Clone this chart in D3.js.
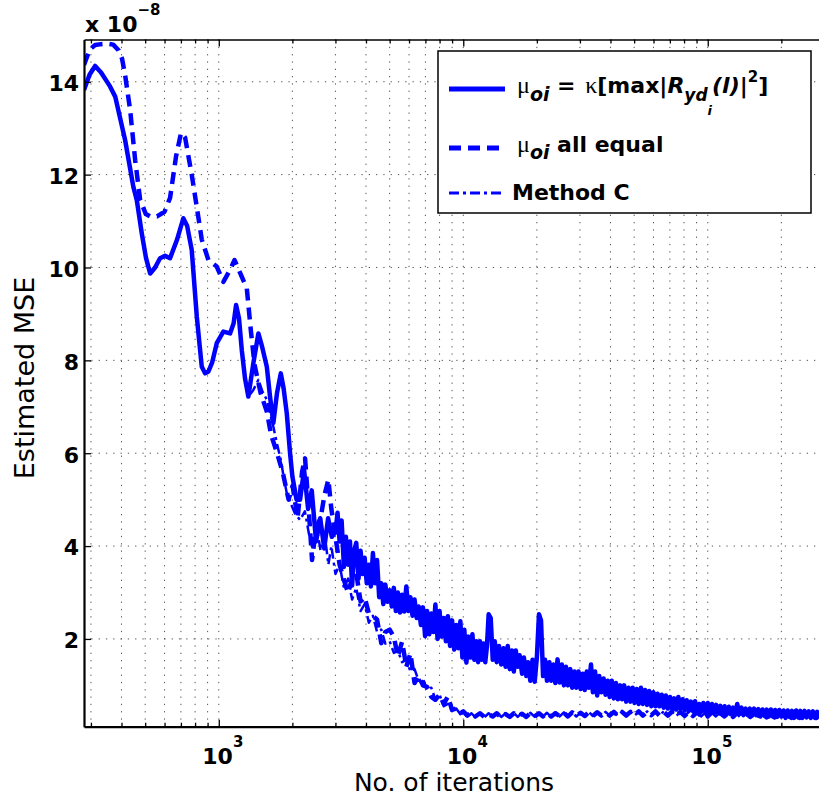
<!DOCTYPE html>
<html>
<head>
<meta charset="utf-8">
<script src="https://cdn.jsdelivr.net/npm/d3@7"></script>
<style>
  body { margin: 0; background: #fff; }
  svg { display: block; }
</style>
</head>
<body>
<svg id="chart"></svg>
<script>
//Data: estimated MSE in units of 1e-8
//Smooth start of each curve
const solidIter = [281,296,312,330,359,377,414,447,462,484,504,524,549,575,603,632,675,716,742,775,
  813,852,879,907,939,981,1044,1112,1150,1177,1210,1242,1281,1321,1381,1452,1503,1572,1622,1672,
  1731,1793,1841,1897,1957,2000,2080,2150,2233,2320,2400,2500,2600,2700,2800,2900];
const solidMse = [13.82,14.15,14.34,14.2,13.9,13.68,12.74,11.74,11.45,10.74,10.2,9.87,10.0,10.2,10.25,10.2,10.6,11.06,10.9,10.38,
  8.94,7.86,7.72,7.76,7.95,8.37,8.62,8.58,8.8,9.19,8.9,8.22,7.6,7.22,7.9,8.58,8.3,7.86,7.2,6.65,
  7.3,7.72,7.4,6.86,6.0,5.5,5.0,5.0,5.64,4.8,5.2,4.1,4.6,3.95,4.6,4.2];

const equalIter = [281,297,312,330,349,370,389,402,414,434,455,477,503,524,559,600,632,669,701,728,
  775,813,852,907,981,1044,1112,1160,1242,1302,1355,1401,1482,1572,1636,1731,1824,1930,2004,2101,
  2191,2254,2326,2407,2500,2609,2706,2807,2887];
const equalMse = [14.36,14.7,14.79,14.81,14.82,14.8,14.68,14.5,14.14,13.39,12.31,11.45,11.15,11.1,11.1,11.2,11.5,12.4,12.9,12.8,
  12.0,11.3,10.6,10.16,10.02,9.69,9.95,10.16,9.8,9.55,8.6,7.9,7.3,6.9,6.4,6.0,5.6,5.0,5.3,4.6,
  5.6,5.89,4.9,3.7,4.4,4.6,5.1,5.43,4.8];

//Method C runs under the solid curve up to ~1321 iterations, then splits off
const methodIter = [1381,1452,1503,1572,1622,1672,1731,1793,1841,1897,1957,2050,2150,2250,2330,2407,2500,2609,2706,2807,2887];
const methodMse = [7.35,7.58,7.35,7.15,6.85,6.57,6.2,5.86,5.5,5.14,4.95,4.7,4.56,4.75,4.3,3.99,4.5,3.9,4.3,3.6,4.0];

//Noisy part of the solid curve (fine iteration grid)
const solidNoiseIter = [3000,3060,3120,3180,3250,3310,3380,3440,3510,3580,
  3650,3730,3800,3880,3950,4030,4110,4190,4270,4360,
  4440,4530,4620,4710,4800,4900,5000,5100,5200,5300,
  5400,5510,5620,5730,5850,5960,6080,6200,6320,6450,
  6570,6710,6840,6980,7110,7260,7400,7550,7690,7850,
  8000,8160,8320,8490,8650,8830,9000,9180,9360,9550,
  9730,9920,10100,10300,10500,10700,10900,11100,11300,11500,
  11700,11900,12100,12300,12500,12700,12950,13200,13450,13700,
  14000,14300,14600,14900,15200,15500,15800,16100,16400,16700,
  17000,17400,17700,18100,18400,18800,19200,19600,20000,20400,
  20800,21200,21600,22000,22500,22900,23400,23800,24300,24800,
  25300,25800,26300,26800,27400,27900,28500,29000,29600,30200,
  30800,31400,32000,32600,33300,33900,34600,35300,36000,36700,
  37500,38200,39000,39700,40500,41300,42100,42900,43800,44600,
  45500,46400,47400,48300,49300,50200,51200,52200,53300,54300,
  55400,56500,57600,58800,59900,61100,62300,63500,64800,66100,
  67400,68700,70100,71500,72900,74300,75800,77300,78900,80400,
  82000,83600,85300,86900,88700,90400,92200,94000,95900,97800,
  100000,102000,104000,106100,108200,110400,112600,114900,117200,119500,
  121900,124300,126800,129400,132000,134600,137300,140000,142800,145700,
  148600,151600,154600,157700,160900,164100,167400,170700,174100,177600,
  181200,184800,188500,192300,196100,200000,204000,208100,212300,216500,
  220800,225300,229800,234400,239000,243800,248700,253700,258800,264000,
  269200,274600,280100,285000];
const solidNoise = [4.3,4.72,4.1,4.55,3.55,4.2,3.6,4.1,3.15,3.9,
  4.07,3.3,3.9,3.4,3.75,3.2,3.6,3.13,3.85,3.2,
  3.7,2.9,3.2,2.75,3.17,2.8,3.05,2.7,3.1,2.6,
  3.0,2.57,2.95,2.59,3.13,2.6,2.9,2.5,2.85,2.45,
  2.7,2.3,2.68,2.06,2.6,2.1,2.55,2.15,2.74,2.0,
  2.6,2.05,2.45,1.95,2.49,1.85,2.4,1.77,2.3,1.8,
  2.38,1.6,2.2,1.49,2.05,1.6,2.1,1.55,1.95,1.5,
  1.95,1.55,1.9,1.5,1.85,2.53,2.45,1.55,1.95,1.5,
  1.85,1.45,1.8,1.4,1.85,1.35,1.75,1.3,1.75,1.4,
  1.65,1.25,1.6,1.2,1.5,1.1,1.55,1.08,1.6,2.53,
  2.4,1.2,1.55,1.1,1.5,1.1,1.45,1.05,1.56,1.06,
  1.45,1.0,1.4,1.0,1.35,0.95,1.3,0.95,1.3,0.92,
  1.25,0.9,1.3,0.95,1.45,0.85,1.3,0.78,1.2,0.85,
  1.15,0.8,1.1,0.75,1.1,0.72,1.05,0.7,1.0,0.7,
  1.0,0.65,0.95,0.65,0.95,0.62,0.92,0.6,0.95,0.6,
  0.9,0.58,0.88,0.55,0.85,0.55,0.82,0.55,0.8,0.52,
  0.78,0.5,0.75,0.5,0.72,0.48,0.75,0.5,0.7,0.46,
  0.68,0.45,0.65,0.45,0.66,0.44,0.6,0.43,0.62,0.42,
  0.62,0.42,0.6,0.4,0.58,0.4,0.56,0.38,0.55,0.4,
  0.54,0.38,0.52,0.4,0.6,0.38,0.52,0.36,0.5,0.37,
  0.5,0.35,0.5,0.36,0.49,0.33,0.48,0.35,0.48,0.33,
  0.48,0.33,0.47,0.32,0.47,0.33,0.46,0.3,0.46,0.32,
  0.45,0.3,0.46,0.31,0.45,0.3,0.45,0.31,0.44,0.3,
  0.44,0.3,0.43,0.3];

//Noisy part of the other two curves (coarser grid)
const denseIter = [3000,3120,3250,3380,3510,3650,3800,3950,4110,4270,
  4440,4620,4800,5000,5200,5400,5620,5850,6080,6320,
  6570,6840,7110,7400,7690,8000,8320,8650,9000,9360,
  9730,10000,10400,10800,11200,11700,12200,12700,13200,13700,
  14300,14900,15500,16100,16700,17400,18100,18800,19600,20400,
  21200,22000,22900,23800,24800,25800,26800,27900,29000,30200,
  31400,32600,33900,35300,36700,38200,39700,41300,42900,44600,
  46400,48300,50200,52200,54300,56500,58800,61100,63500,66100,
  68700,71500,74300,77300,80400,83600,86900,90400,94000,97800,
  100000,104000,108000,112000,117000,122000,127000,132000,137000,143000,
  149000,155000,161000,167000,174000,181000,188000,196000,204000,212000,
  220000,229000,238000,248000,258000,268000,279000,285000];
const equalDense = [4.2,3.6,3.27,2.99,3.3,3.42,2.81,2.9,2.55,2.49,
  2.42,1.91,2.15,2.2,2.05,1.62,1.94,1.4,1.69,1.05,
  1.2,1.0,0.97,0.75,0.69,0.8,0.6,0.76,0.47,0.5,
  0.4,0.44,0.35,0.42,0.33,0.4,0.32,0.38,0.33,0.4,
  0.31,0.38,0.32,0.4,0.33,0.39,0.32,0.4,0.33,0.4,
  0.33,0.41,0.33,0.4,0.34,0.41,0.33,0.42,0.34,0.41,
  0.34,0.42,0.34,0.42,0.35,0.42,0.35,0.43,0.35,0.43,
  0.35,0.43,0.36,0.44,0.35,0.43,0.36,0.44,0.35,0.43,
  0.35,0.44,0.35,0.43,0.34,0.43,0.34,0.42,0.34,0.42,
  0.33,0.42,0.33,0.41,0.33,0.42,0.32,0.41,0.32,0.41,
  0.32,0.4,0.31,0.4,0.31,0.41,0.31,0.4,0.3,0.4,
  0.3,0.4,0.3,0.41,0.3,0.4,0.3,0.39];
const methodDense = [3.4,3.6,3.1,3.3,2.85,3.1,2.6,2.75,2.35,2.5,
  2.15,2.2,1.9,1.95,1.7,1.75,1.5,1.55,1.3,1.35,
  1.1,1.15,0.9,0.95,0.7,0.8,0.55,0.6,0.45,0.5,
  0.38,0.42,0.32,0.4,0.31,0.41,0.31,0.4,0.32,0.41,
  0.32,0.4,0.31,0.41,0.32,0.41,0.32,0.41,0.32,0.42,
  0.33,0.41,0.32,0.42,0.33,0.42,0.34,0.41,0.33,0.42,
  0.34,0.43,0.34,0.43,0.34,0.43,0.35,0.42,0.35,0.44,
  0.35,0.44,0.35,0.43,0.36,0.44,0.35,0.43,0.36,0.44,
  0.35,0.43,0.34,0.43,0.35,0.42,0.34,0.43,0.33,0.42,
  0.34,0.41,0.33,0.42,0.32,0.41,0.33,0.4,0.32,0.41,
  0.31,0.41,0.32,0.4,0.31,0.4,0.3,0.41,0.31,0.4,
  0.3,0.41,0.31,0.4,0.3,0.41,0.31,0.4];

//Ticks
const xMajor = [1e3, 1e4, 1e5];
const xMajorExp = ["3", "4", "5"];
const yTicks = [2, 4, 6, 8, 10, 12, 14];

//Chart Setup
const w = 819;
const h = 803;
const padLeft = 84, padRight = 824.4, padTop = 39.5, padBottom = 726.7;
const SANS = "'DejaVu Sans', sans-serif";
const SERIF = "'Liberation Serif', 'DejaVu Serif', serif";
const BLUE = "#0000ff";

const xScale = d3.scaleLog().domain([281, 3e5]).range([padLeft, padRight]);
const yScale = d3.scaleLinear().domain([0.11, 14.91]).range([padBottom, padTop]);

const svg = d3.select("#chart").attr("width", w).attr("height", h);

//Minor ticks on the log axis: 2..9 x 10^k
const xMinor = [];
for (let k = 2; k <= 5; k++) {
  for (let m = 2; m <= 9; m++) {
    const v = m * Math.pow(10, k);
    if (v >= 281 && v <= 3e5) xMinor.push(v);
  }
}

//Grid (dotted)
const grid = svg.append("g")
  .attr("stroke", "#555")
  .attr("stroke-width", 1)
  .attr("stroke-dasharray", "1.3,6");
grid.selectAll(".vg")
  .data(xMinor.concat(xMajor))
  .enter()
  .append("line")
  .attr("x1", d => xScale(d)).attr("x2", d => xScale(d))
  .attr("y1", padTop).attr("y2", padBottom);
grid.selectAll(".hg")
  .data(yTicks)
  .enter()
  .append("line")
  .attr("x1", padLeft).attr("x2", padRight)
  .attr("y1", d => yScale(d)).attr("y2", d => yScale(d));

//Series
const zip = (its, vals) => its.map((d, i) => [d, vals[i]]);
const series = [
  { pts: zip(solidIter.concat(solidNoiseIter), solidMse.concat(solidNoise)), width: 4.5, dash: null },
  { pts: zip(equalIter.concat(denseIter), equalMse.concat(equalDense)), width: 4.5, dash: "12,7" },
  { pts: zip(solidIter.slice(0, 34).concat(methodIter, denseIter),
             solidMse.slice(0, 34).concat(methodMse, methodDense)), width: 2.5, dash: "10,4,3,4" }
];

svg.append("clipPath").attr("id", "plotClip")
  .append("rect")
  .attr("x", padLeft).attr("y", padTop)
  .attr("width", padRight - padLeft).attr("height", padBottom - padTop);

const line = d3.line()
  .x(d => xScale(d[0]))
  .y(d => yScale(d[1]));

svg.append("g")
  .attr("clip-path", "url(#plotClip)")
  .selectAll("path")
  .data(series)
  .enter()
  .append("path")
  .attr("d", d => line(d.pts))
  .attr("fill", "none")
  .attr("stroke", BLUE)
  .attr("stroke-width", d => d.width)
  .attr("stroke-linejoin", "round")
  .attr("stroke-dasharray", d => d.dash);

//Axes (ticks point inward)
function styleAxis(g, domainWidth) {
  g.select(".domain").attr("stroke", "#000").attr("stroke-width", domainWidth);
  g.selectAll(".tick line").attr("stroke", "#000").attr("stroke-width", 1.3);
}

const xBottomMinor = svg.append("g")
  .attr("transform", "translate(0," + padBottom + ")")
  .call(d3.axisBottom(xScale).tickValues(xMinor).tickSize(-4).tickSizeOuter(0).tickFormat(""));
styleAxis(xBottomMinor, 2.2);
const xBottomMajor = svg.append("g")
  .attr("transform", "translate(0," + padBottom + ")")
  .call(d3.axisBottom(xScale).tickValues(xMajor).tickSize(-7).tickSizeOuter(0).tickFormat(""));
xBottomMajor.select(".domain").remove();
styleAxis(xBottomMajor, 0);

const xTopMinor = svg.append("g")
  .attr("transform", "translate(0," + padTop + ")")
  .call(d3.axisTop(xScale).tickValues(xMinor).tickSize(-4).tickSizeOuter(0).tickFormat(""));
styleAxis(xTopMinor, 1.5);
const xTopMajor = svg.append("g")
  .attr("transform", "translate(0," + padTop + ")")
  .call(d3.axisTop(xScale).tickValues(xMajor).tickSize(-7).tickSizeOuter(0).tickFormat(""));
xTopMajor.select(".domain").remove();
styleAxis(xTopMajor, 0);

const yAxis = svg.append("g")
  .attr("transform", "translate(" + padLeft + ",0)")
  .call(d3.axisLeft(yScale).tickValues(yTicks).tickSize(-7).tickPadding(5).tickSizeOuter(0));
styleAxis(yAxis, 2.2);
yAxis.selectAll(".tick text")
  .attr("font-family", SANS)
  .attr("font-weight", "bold")
  .attr("font-size", 22)
  .attr("fill", "#000")
  .attr("dy", "0.4em");

//X tick labels 10^k
const xLabels = svg.append("g")
  .attr("font-family", SANS)
  .attr("font-weight", "bold")
  .attr("fill", "#000");
xMajor.forEach((v, i) => {
  const t = xLabels.append("text")
    .attr("x", xScale(v) - 16.5)
    .attr("y", 764)
    .attr("font-size", 22);
  t.append("tspan").text("10");
  t.append("tspan").attr("font-size", 15).attr("dy", -17).text(xMajorExp[i]);
});

//Exponent note
const expo = svg.append("text")
  .attr("x", 85).attr("y", 31.7)
  .attr("font-family", SANS).attr("font-weight", "bold").attr("font-size", 22);
expo.append("tspan").text("x 10");
expo.append("tspan").attr("font-size", 15).attr("dy", -16.7).text("\u22128");

//Axis titles
svg.append("text")
  .attr("transform", "translate(34,378) rotate(-90)")
  .attr("text-anchor", "middle")
  .attr("font-family", SANS)
  .attr("font-size", 27)
  .text("Estimated MSE");

svg.append("text")
  .attr("x", 454).attr("y", 791)
  .attr("text-anchor", "middle")
  .attr("font-family", SANS)
  .attr("font-size", 25)
  .text("No. of iterations");

//Legend
const legend = svg.append("g");
legend.append("rect")
  .attr("x", 438).attr("y", 51)
  .attr("width", 373).attr("height", 162)
  .attr("fill", "#fff")
  .attr("stroke", "#000")
  .attr("stroke-width", 1.5);

const legendY = [89, 148, 193];
legend.selectAll(".sample")
  .data(series)
  .enter()
  .append("line")
  .attr("x1", 449).attr("x2", 505)
  .attr("y1", (d, i) => legendY[i]).attr("y2", (d, i) => legendY[i])
  .attr("stroke", BLUE)
  .attr("stroke-width", (d, i) => i === 2 ? 3 : 5)
  .attr("stroke-dasharray", d => d.dash);

//Entry 1: mu_oi = kappa[max|R_yd_i(l)|^2]
const e1 = legend.append("text")
  .attr("x", 517).attr("y", 93.3)
  .attr("font-family", SANS).attr("font-weight", "bold").attr("font-size", 22);
e1.append("tspan").attr("font-family", SERIF).attr("font-weight", "normal").attr("font-size", 24).text("\u03bc");
e1.append("tspan").attr("font-style", "italic").attr("font-size", 19).attr("dy", 7.5).text("oi");
e1.append("tspan").attr("dy", -7.5).text(" = ");
e1.append("tspan").attr("font-family", SERIF).attr("font-weight", "normal").attr("font-size", 24).attr("dx", 2).text("\u03ba");
e1.append("tspan").text("[max|");
e1.append("tspan").attr("font-style", "italic").text("R");
e1.append("tspan").attr("font-style", "italic").attr("font-size", 17).attr("dy", 8).text("yd");
e1.append("tspan").attr("font-style", "italic").attr("font-size", 13).attr("dy", 14).text("i");
e1.append("tspan").attr("font-style", "italic").attr("dy", -22).text("(l)");
e1.append("tspan").text("|");
e1.append("tspan").attr("font-size", 15).attr("dy", -11.6).text("2");
e1.append("tspan").attr("dy", 11.6).text("]");

//Entry 2: mu_oi all equal
const e2 = legend.append("text")
  .attr("x", 517).attr("y", 151.7)
  .attr("font-family", SANS).attr("font-weight", "bold").attr("font-size", 22);
e2.append("tspan").attr("font-family", SERIF).attr("font-weight", "normal").attr("font-size", 24).text("\u03bc");
e2.append("tspan").attr("font-style", "italic").attr("font-size", 19).attr("dy", 7.5).text("oi");
e2.append("tspan").attr("dy", -7.5).text(" all equal");

//Entry 3
legend.append("text")
  .attr("x", 512).attr("y", 200)
  .attr("font-family", SANS).attr("font-weight", "bold").attr("font-size", 22)
  .text("Method C");
</script>
</body>
</html>
